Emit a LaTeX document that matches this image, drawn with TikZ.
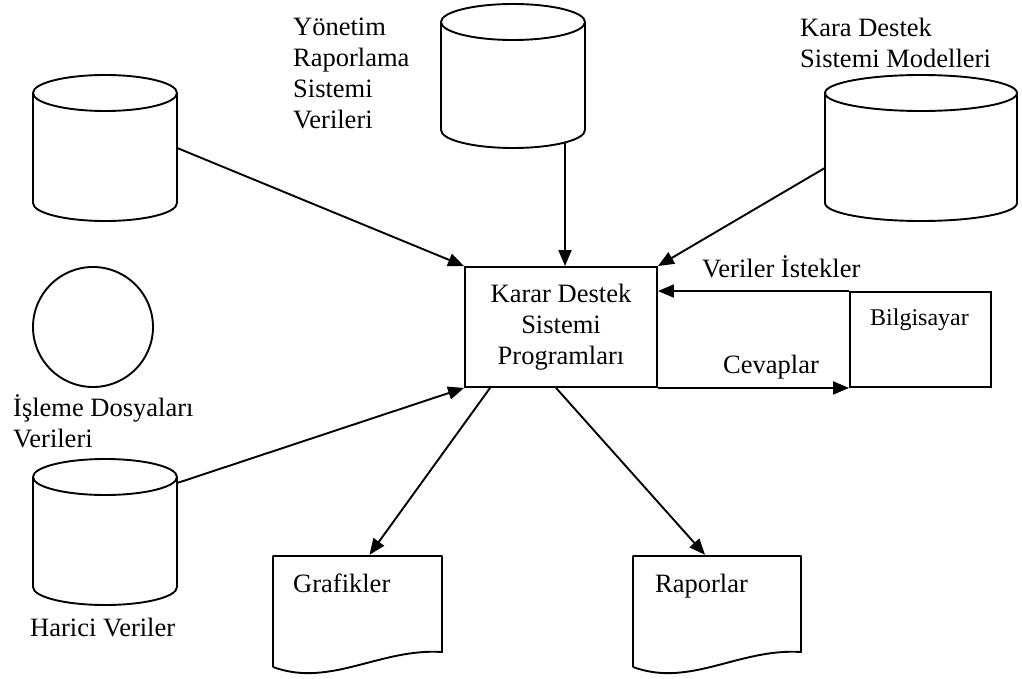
\documentclass[tikz,border=0pt]{standalone}
\usepackage{fontspec}
\setmainfont{Liberation Serif}
\usetikzlibrary{arrows.meta,calc}

\tikzset{
  line/.style={line width=1.9pt},
  arr/.style={line, -{Triangle[length=16pt,width=13pt]}},
  lbl/.style={anchor=base west, inner sep=0pt, font=\fontsize{26.5}{31}\selectfont, align=left},
  frame/.style={draw, line width=1.9pt, inner sep=0pt},
  area/.style={inner sep=0pt},
}

% cylinder: centre x, cap centre y, bottom centre y, x radius, y radius
\newcommand\dbcyl[5]{%
  \draw[line, fill=white] ({#1-#4},#2) -- ({#1-#4},#3)
     arc[start angle=180, end angle=0, x radius=#4, y radius=#5] -- ({#1+#4},#2);
  \draw[line] (#1,#2) ellipse[x radius=#4, y radius=#5];
}

% printed document: left x, right x, top y
\newcommand\docshape[3]{%
  \draw[line, line join=round] (#1,{#3+111}) -- (#1,#3) -- (#2,#3) -- (#2,{#3+96})
     .. controls ({#2-62},{#3+92}) and ({#1+57},{#3+132}) .. (#1,{#3+111});
}

\begin{document}
\begin{tikzpicture}[x=1pt, y=-1pt]
  \useasboundingbox (0,0) rectangle (1022,679);

  % data stores
  \dbcyl{105}{93}{203}{72}{18}
  \dbcyl{513}{22}{130}{72}{18}
  \dbcyl{921}{93}{203}{96}{18}
  \dbcyl{105}{477}{587}{72}{18}
  \node[area, minimum width=144pt, minimum height=146pt] (c1) at (105,148) {};
  \node[area, minimum width=144pt, minimum height=144pt] (c2) at (513,76) {};
  \node[area, minimum width=192pt, minimum height=146pt] (c3) at (921,148) {};
  \node[area, minimum width=144pt, minimum height=146pt] (c4) at (105,532) {};

  % transaction files
  \node[draw, line width=1.9pt, circle, minimum size=120pt, inner sep=0pt] (tf) at (93,327) {};

  % labels of the stores (base = last line)
  \node[lbl] (l2) at (293,129) {Yönetim\\Raporlama\\Sistemi\\Verileri};
  \node[lbl] (l3) at (800,68) {Kara Destek\\Sistemi Modelleri};
  \node[lbl] (ltf) at (13,447) {İşleme Dosyaları\\Verileri};
  \node[lbl] (l4) at (30,636) {Harici Veriler};

  % central program block
  \node[frame, minimum width=192pt, minimum height=120pt, align=center,
        font=\fontsize{26.5}{31}\selectfont] (dss) at (561,327)
        {Karar Destek\\Sistemi\\Programları};

  % computer
  \node[frame, minimum width=141pt, minimum height=95pt] (pc) at (920.5,339.5) {};
  \node[lbl, font=\fontsize{24}{28}\selectfont] (pct) at (870,325) {Bilgisayar};

  % output documents
  \docshape{273}{442}{556}
  \docshape{633}{801}{556}
  \node[area, minimum width=169pt, minimum height=119pt] (graf) at (357.5,615.5) {};
  \node[area, minimum width=168pt, minimum height=119pt] (rap) at (717,615.5) {};
  \node[lbl] (gt) at (293,592) {Grafikler};
  \node[lbl] (rt) at (655,592) {Raporlar};

  % connector end points
  \coordinate (c2out) at ($(c2.south)+(52,-5)$);
  \coordinate (c3out) at ($(c3.west)+(0,20)$);
  \coordinate (c4out) at ($(c4.east)+(0,-49)$);
  \coordinate (gout) at ($(dss.south west)+(26,0)$);
  \coordinate (rout) at ($(dss.south west)+(92,0)$);
  \coordinate (gin) at ($(graf.north)+(12,-1)$);
  \coordinate (rin) at ($(rap.north)+(-12,-1)$);

  % flows into the program block
  \draw[arr] (c1.east) -- (dss.north west);
  \draw[arr] (c2out) -- (c2out |- dss.north);
  \draw[arr] (c3out) -- (dss.north east);
  \draw[arr] (c4out) -- (dss.south west);

  % dialogue with the computer
  \draw[arr] (pc.north west) -- (pc.north west -| dss.east);
  \draw[arr] (dss.south east) -- (pc.south west);
  \node[lbl] (req) at (702,277) {Veriler İstekler};
  \node[lbl] (ans) at (723,373) {Cevaplar};

  % outputs
  \draw[arr] (gout) -- (gin);
  \draw[arr] (rout) -- (rin);
\end{tikzpicture}
\end{document}
